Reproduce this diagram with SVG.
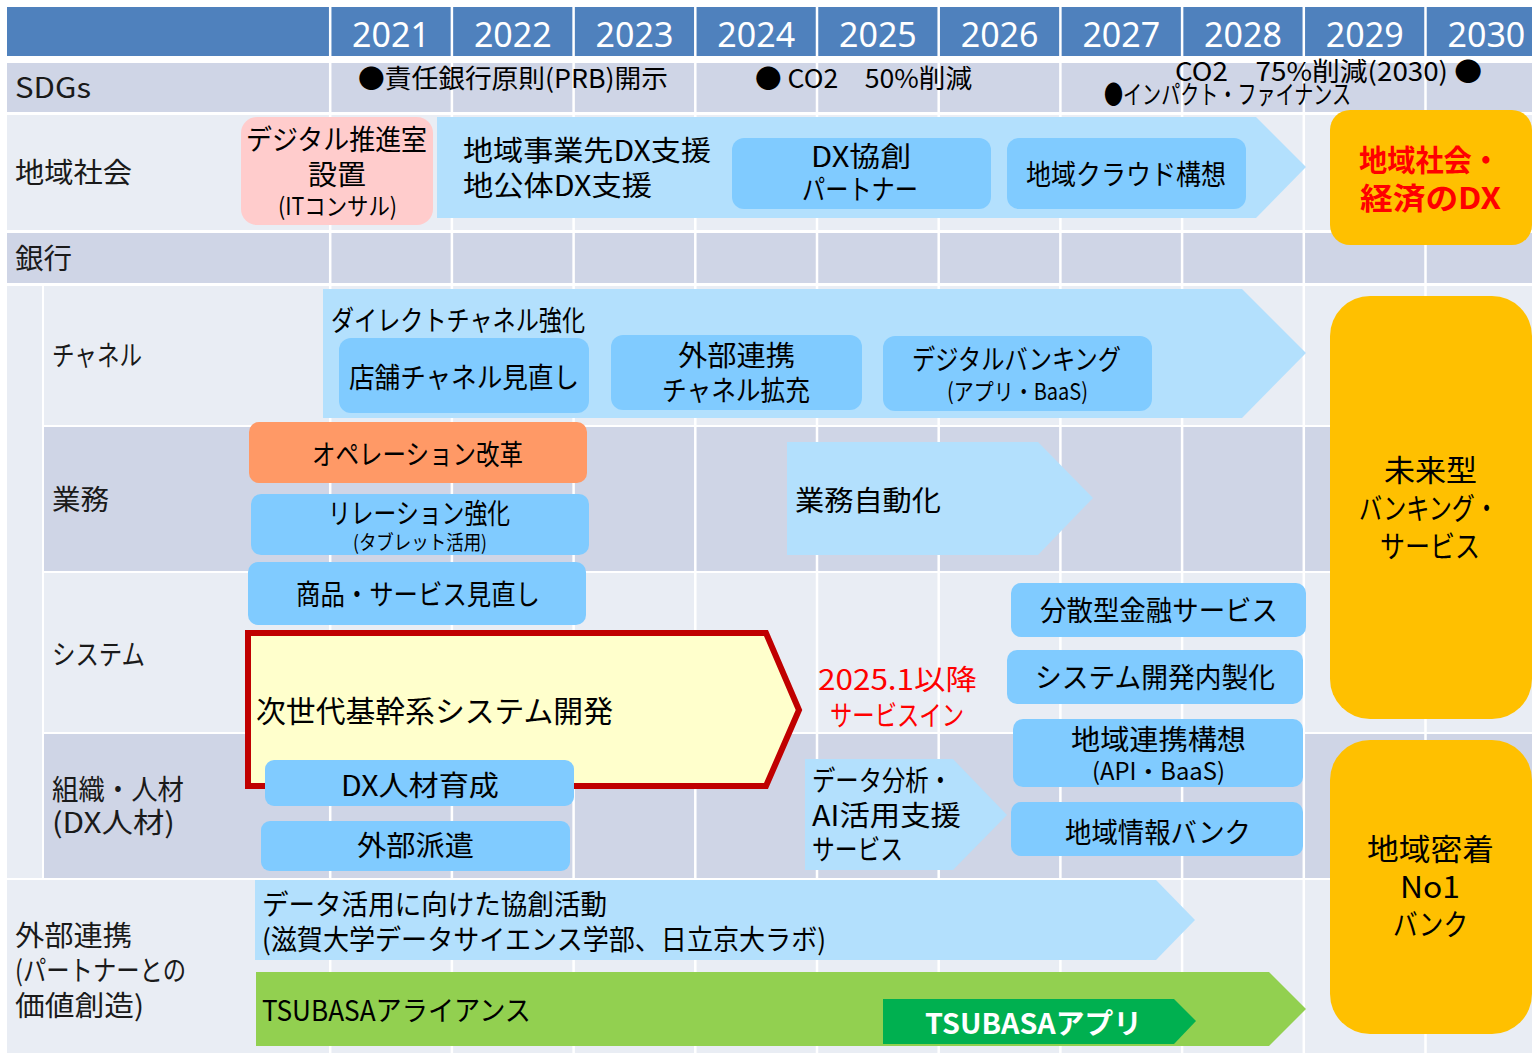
<svg xmlns="http://www.w3.org/2000/svg" width="1532" height="1053" viewBox="0 0 1532 1053">
<defs>
<style>
text{font-family:"Noto Sans CJK JP","Noto Sans",sans-serif;font-size:28px;fill:#000;}
.lbl{fill:#1a1a1a;}
.yr{fill:#fff;font-size:34px;text-anchor:middle;font-family:"Noto Sans","Noto Sans CJK JP",sans-serif;}
.sm{font-size:24px;}
.xs{font-size:20px;}
.red{fill:#ff0000;}
.bold{font-weight:bold;}
.big{font-size:30px;}
.wh{fill:#fff;}
.rowD{fill:#cfd5e6;}
.rowL{fill:#e9edf4;}
.box{fill:#80cbff;}
.arr{fill:#b3e0fd;}
.gold{fill:#ffc000;}
.vl{stroke:#fff;stroke-width:2.5;}
</style>
</defs>
<rect x="0" y="0" width="1532" height="1053" fill="#fff"/>

<g id="grid">
<rect x="7" y="7" width="1525" height="49" fill="#4f81bd"/>
<rect class="rowD" x="7" y="63" width="1525" height="49"/>
<rect class="rowL" x="7" y="115" width="1525" height="115"/>
<rect class="rowD" x="7" y="233" width="1525" height="50"/>
<rect class="rowL" x="7" y="286" width="35" height="592"/>
<rect class="rowL" x="44" y="286" width="1488" height="139"/>
<rect class="rowD" x="44" y="427" width="1488" height="144"/>
<rect class="rowL" x="44" y="573" width="1488" height="159"/>
<rect class="rowD" x="44" y="734" width="1488" height="144"/>
<rect class="rowL" x="7" y="880" width="1525" height="173"/>
<g class="vl">
<line x1="330.2" y1="0" x2="330.2" y2="1053"/>
<line x1="451.9" y1="0" x2="451.9" y2="1053"/>
<line x1="573.6" y1="0" x2="573.6" y2="1053"/>
<line x1="695.3" y1="0" x2="695.3" y2="1053"/>
<line x1="817" y1="0" x2="817" y2="1053"/>
<line x1="938.7" y1="0" x2="938.7" y2="1053"/>
<line x1="1060.4" y1="0" x2="1060.4" y2="1053"/>
<line x1="1182.1" y1="0" x2="1182.1" y2="1053"/>
<line x1="1303.8" y1="0" x2="1303.8" y2="1053"/>
<line x1="1425.5" y1="0" x2="1425.5" y2="1053"/>
</g>
<text class="yr" x="391" y="47">2021</text>
<text class="yr" x="512.8" y="47">2022</text>
<text class="yr" x="634.5" y="47">2023</text>
<text class="yr" x="756.2" y="47">2024</text>
<text class="yr" x="877.9" y="47">2025</text>
<text class="yr" x="999.6" y="47">2026</text>
<text class="yr" x="1121.3" y="47">2027</text>
<text class="yr" x="1243" y="47">2028</text>
<text class="yr" x="1364.7" y="47">2029</text>
<text class="yr" x="1486.4" y="47">2030</text>
</g>

<g id="labels">
<text class="lbl" x="15" y="98" textLength="76" lengthAdjust="spacingAndGlyphs">SDGs</text>
<text class="lbl" x="15" y="183" textLength="117" lengthAdjust="spacingAndGlyphs">地域社会</text>
<text class="lbl" x="15" y="269" textLength="57" lengthAdjust="spacingAndGlyphs">銀行</text>
<text class="lbl" x="52" y="366" textLength="90" lengthAdjust="spacingAndGlyphs">チャネル</text>
<text class="lbl" x="52" y="510" textLength="57" lengthAdjust="spacingAndGlyphs">業務</text>
<text class="lbl" x="52" y="665" textLength="93" lengthAdjust="spacingAndGlyphs">システム</text>
<text class="lbl" x="52" y="800" textLength="132" lengthAdjust="spacingAndGlyphs">組織・人材</text>
<text class="lbl" x="52" y="833" textLength="123" lengthAdjust="spacingAndGlyphs">(DX人材)</text>
<text class="lbl" x="15" y="946" textLength="117" lengthAdjust="spacingAndGlyphs">外部連携</text>
<text class="lbl" x="15" y="981" textLength="171" lengthAdjust="spacingAndGlyphs">(パートナーとの</text>
<text class="lbl" x="15" y="1016" textLength="129" lengthAdjust="spacingAndGlyphs">価値創造)</text>
</g>

<g id="sdgs">
<text x="358" y="88" font-size="26" textLength="310" lengthAdjust="spacingAndGlyphs" style="font-size:26px">●責任銀行原則(PRB)開示</text>
<text x="755" y="88" style="font-size:26px" textLength="217" lengthAdjust="spacingAndGlyphs">● CO2　50%削減</text>
<text x="1175" y="81" style="font-size:26px" textLength="307" lengthAdjust="spacingAndGlyphs">CO2　75%削減(2030) ●</text>
<text x="1104" y="104" style="font-size:26px" textLength="247" lengthAdjust="spacingAndGlyphs">●インパクト・ファイナンス</text>
</g>

<g id="node-digital-office">
<rect x="241" y="117" width="192" height="108" rx="16" fill="#ffcccc"/>
<text x="246" y="150" textLength="181" lengthAdjust="spacingAndGlyphs">デジタル推進室</text>
<text x="308" y="185" textLength="58" lengthAdjust="spacingAndGlyphs">設置</text>
<text class="sm" x="278" y="215" textLength="119" lengthAdjust="spacingAndGlyphs">(ITコンサル)</text>
</g>

<g id="node-regional-dx">
<polygon class="arr" points="437,117 1256,117 1306,167 1256,218 437,218"/>
<text x="463" y="161" textLength="248" lengthAdjust="spacingAndGlyphs">地域事業先DX支援</text>
<text x="463" y="196" textLength="189" lengthAdjust="spacingAndGlyphs">地公体DX支援</text>
</g>
<g id="node-dx-partner">
<rect class="box" x="732" y="138" width="259" height="71" rx="12"/>
<text x="811" y="167" textLength="100" lengthAdjust="spacingAndGlyphs">DX協創</text>
<text x="802" y="200" textLength="116" lengthAdjust="spacingAndGlyphs">パートナー</text>
</g>
<g id="node-cloud">
<rect class="box" x="1007" y="138" width="239" height="71" rx="12"/>
<text x="1026" y="185" textLength="200" lengthAdjust="spacingAndGlyphs">地域クラウド構想</text>
</g>
<g id="node-goal-region">
<rect class="gold" x="1330" y="110" width="202" height="135" rx="20"/>
<text class="red bold big" x="1359" y="171" textLength="141" lengthAdjust="spacingAndGlyphs">地域社会・</text>
<text class="red bold big" x="1360" y="209" textLength="141" lengthAdjust="spacingAndGlyphs">経済のDX</text>
</g>

<g id="node-direct-channel">
<polygon class="arr" points="323,289 1242,289 1306,353 1242,418 323,418"/>
<text x="331" y="331" textLength="254" lengthAdjust="spacingAndGlyphs">ダイレクトチャネル強化</text>
</g>
<g id="node-branch">
<rect class="box" x="339" y="338" width="250" height="75" rx="12"/>
<text x="349" y="388" textLength="230" lengthAdjust="spacingAndGlyphs">店舗チャネル見直し</text>
</g>
<g id="node-ext-channel">
<rect class="box" x="611" y="335" width="251" height="75" rx="12"/>
<text x="678" y="366" textLength="117" lengthAdjust="spacingAndGlyphs">外部連携</text>
<text x="662" y="401" textLength="148" lengthAdjust="spacingAndGlyphs">チャネル拡充</text>
</g>
<g id="node-digital-banking">
<rect class="box" x="883" y="336" width="269" height="75" rx="12"/>
<text x="912" y="370" textLength="209" lengthAdjust="spacingAndGlyphs">デジタルバンキング</text>
<text x="947" y="400" style="font-size:23px" textLength="141" lengthAdjust="spacingAndGlyphs">(アプリ・BaaS)</text>
</g>

<g id="node-goal-future">
<rect class="gold" x="1330" y="296" width="202" height="423" rx="40"/>
<text class="big" x="1384" y="481" textLength="93" lengthAdjust="spacingAndGlyphs">未来型</text>
<text class="big" x="1359" y="519" textLength="139" lengthAdjust="spacingAndGlyphs">バンキング・</text>
<text class="big" x="1380" y="557" textLength="100" lengthAdjust="spacingAndGlyphs">サービス</text>
</g>
<g id="node-goal-local">
<rect class="gold" x="1330" y="740" width="202" height="294" rx="40"/>
<text class="big" x="1367" y="860" textLength="127" lengthAdjust="spacingAndGlyphs">地域密着</text>
<text class="big" x="1400" y="898" textLength="60" lengthAdjust="spacingAndGlyphs">No1</text>
<text class="big" x="1393" y="935" textLength="75" lengthAdjust="spacingAndGlyphs">バンク</text>
</g>

<g id="node-operation">
<rect x="249" y="422" width="338" height="61" rx="10" fill="#ff9966"/>
<text x="312" y="465" textLength="211" lengthAdjust="spacingAndGlyphs">オペレーション改革</text>
</g>
<g id="node-relation">
<rect class="box" x="251" y="494" width="338" height="61" rx="10"/>
<text x="328" y="524" textLength="182" lengthAdjust="spacingAndGlyphs">リレーション強化</text>
<text class="xs" x="353" y="550" textLength="134" lengthAdjust="spacingAndGlyphs">(タブレット活用)</text>
</g>
<g id="node-automation">
<polygon class="arr" points="787,442 1038,442 1093,498 1038,555 787,555"/>
<text x="795" y="511" textLength="146" lengthAdjust="spacingAndGlyphs">業務自動化</text>
</g>

<g id="node-product">
<rect class="box" x="248" y="562" width="338" height="63" rx="10"/>
<text x="296" y="605" textLength="244" lengthAdjust="spacingAndGlyphs">商品・サービス見直し</text>
</g>
<g id="node-core-system">
<polygon points="248,633 766,633 799,710 766,786 248,786" fill="#ffffcc" stroke="#c00000" stroke-width="6" stroke-linejoin="miter"/>
<text class="big" x="256" y="722" textLength="357" lengthAdjust="spacingAndGlyphs">次世代基幹系システム開発</text>
</g>
<g id="node-service-in">
<text class="red" x="818" y="690" textLength="159" lengthAdjust="spacingAndGlyphs">2025.1以降</text>
<text class="red" x="830" y="726" textLength="134" lengthAdjust="spacingAndGlyphs">サービスイン</text>
</g>
<g id="node-defi">
<rect class="box" x="1011" y="583" width="295" height="54" rx="10"/>
<text x="1040" y="621" textLength="238" lengthAdjust="spacingAndGlyphs">分散型金融サービス</text>
</g>
<g id="node-inhouse">
<rect class="box" x="1007" y="650" width="296" height="54" rx="10"/>
<text x="1035" y="688" textLength="240" lengthAdjust="spacingAndGlyphs">システム開発内製化</text>
</g>
<g id="node-regional-link">
<rect class="box" x="1013" y="719" width="290" height="68" rx="10"/>
<text x="1071" y="750" textLength="175" lengthAdjust="spacingAndGlyphs">地域連携構想</text>
<text class="sm" x="1092" y="780" textLength="133" lengthAdjust="spacingAndGlyphs">(API・BaaS)</text>
</g>
<g id="node-info-bank">
<rect class="box" x="1011" y="802" width="292" height="54" rx="10"/>
<text x="1065" y="843" textLength="186" lengthAdjust="spacingAndGlyphs">地域情報バンク</text>
</g>

<g id="node-dx-talent">
<rect class="box" x="265" y="760" width="309" height="46" rx="9"/>
<text x="341" y="796" textLength="158" lengthAdjust="spacingAndGlyphs">DX人材育成</text>
</g>
<g id="node-dispatch">
<rect class="box" x="261" y="821" width="309" height="50" rx="9"/>
<text x="357" y="856" textLength="117" lengthAdjust="spacingAndGlyphs">外部派遣</text>
</g>
<g id="node-data-ai">
<polygon class="arr" points="805,759 953,759 1007,815 953,870 805,870"/>
<text x="812" y="791" textLength="140" lengthAdjust="spacingAndGlyphs">データ分析・</text>
<text x="812" y="826" textLength="149" lengthAdjust="spacingAndGlyphs">AI活用支援</text>
<text x="812" y="860" textLength="91" lengthAdjust="spacingAndGlyphs">サービス</text>
</g>

<g id="node-cocreation">
<polygon class="arr" points="255,880 1156,880 1195,920 1156,960 255,960"/>
<text x="262" y="915" textLength="345" lengthAdjust="spacingAndGlyphs">データ活用に向けた協創活動</text>
<text x="262" y="950" textLength="564" lengthAdjust="spacingAndGlyphs">(滋賀大学データサイエンス学部、日立京大ラボ)</text>
</g>
<g id="node-tsubasa">
<polygon points="256,972 1269,972 1306,1009 1269,1046 256,1046" fill="#92d050"/>
<text x="262" y="1021" textLength="269" lengthAdjust="spacingAndGlyphs">TSUBASAアライアンス</text>
</g>
<g id="node-tsubasa-app">
<polygon points="883,999 1174,999 1196,1021 1174,1044 883,1044" fill="#00b050"/>
<text class="wh bold" x="925" y="1034" textLength="217" lengthAdjust="spacingAndGlyphs">TSUBASAアプリ</text>
</g>

<g id="connectors"></g>
</svg>
